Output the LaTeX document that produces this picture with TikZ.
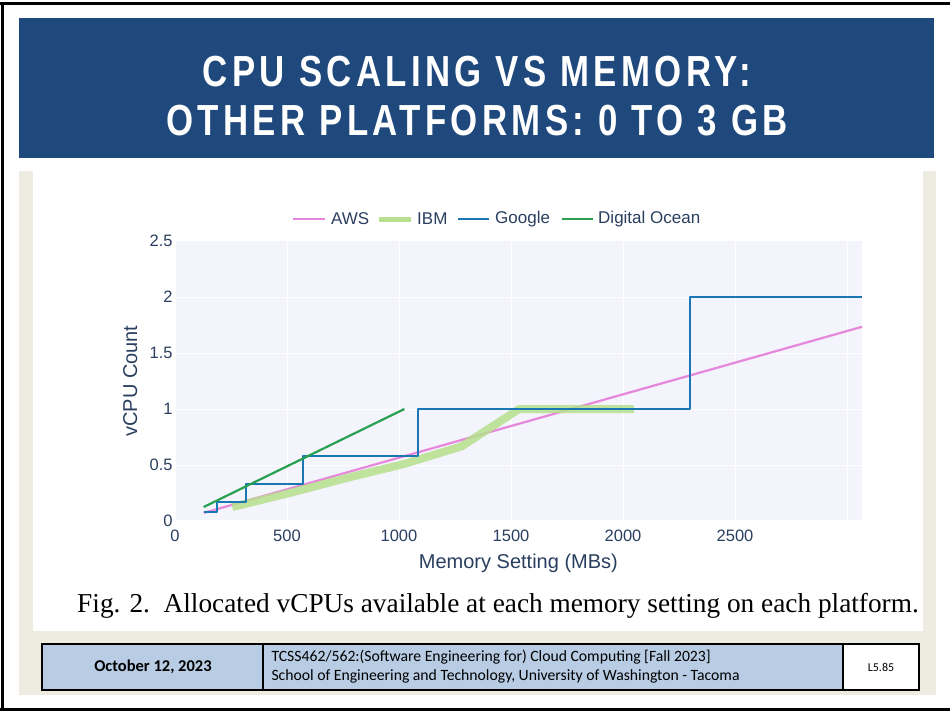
\documentclass[tikz,border=0pt]{standalone}
\usepackage{fontspec}
\setmainfont{Liberation Serif}
\newfontfamily\plotfont{Liberation Sans}
\newfontfamily\titlefont[FakeStretch=0.8,LetterSpace=10]{Liberation Sans}
\newfontfamily\footfont{Carlito}
\definecolor{titleblue}{RGB}{31,73,125}
\definecolor{slidebeige}{RGB}{238,236,225}
\definecolor{plotbg}{RGB}{243,244,252}
\definecolor{plottext}{RGB}{42,63,95}
\definecolor{footblue}{RGB}{184,204,228}
\definecolor{awscol}{RGB}{230,135,220}
\definecolor{ibmcol}{RGB}{182,224,140}
\definecolor{googlecol}{RGB}{25,120,180}
\definecolor{docol}{RGB}{40,160,80}
\tikzset{
  gridline/.style={white,line width=1pt},
  ticklabel/.style={text=plottext,font=\plotfont\fontsize{16.5}{19}\selectfont,inner sep=0pt},
  plotlabel/.style={text=plottext,font=\plotfont\fontsize{17}{20}\selectfont,inner sep=0pt},
  axistitle/.style={plotlabel,font=\plotfont\fontsize{20}{23}\selectfont},
  legendlabel/.style={plotlabel,anchor=west},
  trace/.style={line width=2.2pt,line join=round}
}

\begin{document}
\begin{tikzpicture}[x=1pt,y=-1pt]
      \useasboundingbox (0,0) rectangle (950,712);
      % slide frame
      \draw[line width=3pt] (0,3)--(950,3) (2,3)--(2,709) (0,709)--(950,709);
      \fill[titleblue] (19,18) rectangle (934,158);
      \node[text=white,align=center,font=\titlefont\bfseries\fontsize{43.5}{49}\selectfont] (title) at (477,96)
        {CPU SCALING VS MEMORY:\\OTHER PLATFORMS: 0 TO 3 GB};
      \fill[slidebeige] (19,171) rectangle (936,695);
      \fill[white] (33,171) rectangle (923,631);
      % legend
      \draw[awscol,line width=2pt] (293,219)--(325,219);
      \node[legendlabel] (aws) at (331,219) {AWS};
      \draw[ibmcol,line width=5pt] (379,219)--(411,219);
      \node[legendlabel] (ibm) at (417,219) {IBM};
      \draw[googlecol,line width=2pt] (458,219)--(489,219);
      \node[legendlabel] (google) at (495,219) {Google};
      \draw[docol,line width=2pt] (562,219)--(593,219);
      \node[legendlabel] (docean) at (598,219) {Digital Ocean};
      % plot, in MB and vCPU
      \begin{scope}[shift={(175,521)},x=0.224pt,y=112pt]
        \fill[plotbg] (0,0) rectangle (3067,2.5);
        \foreach \m in {500,1000,...,3000}
          \draw[gridline] (\m,0)--(\m,2.5);
        \foreach \v in {0.5,1,1.5,2}
          \draw[gridline] (0,\v)--(3067,\v);
        \draw[white,line width=2pt] (0,0)--(3067,0) (0,0)--(0,2.5);
        \foreach \m in {0,500,1000,1500,2000,2500}
          \node[ticklabel] at (\m,-0.13) {\m};
        \foreach \v in {0,0.5,1,1.5,2,2.5}
          \node[ticklabel,anchor=east] at (-10,\v) {\v};
        \draw[trace,awscol] (128,0.0724)--(3067,1.734);
        \draw[trace,ibmcol,line width=8pt,opacity=.85] (256,0.125)--(512,0.25)--(768,0.385)
          --(1024,0.51)--(1280,0.667)--(1536,1)--(2048,1);
        \draw[trace,googlecol] (128,0.083)--(187,0.083)--(187,0.167)--(317,0.167)--(317,0.333)
          --(573,0.333)--(573,0.583)--(1085,0.583)--(1085,1)--(2299,1)--(2299,2)--(3067,2);
        \draw[trace,docol] (128,0.125)--(1024,1);
        \node[axistitle,rotate=90] (ytitle) at (-200,1.25) {vCPU Count};
        \node[axistitle] (xtitle) at (1533,-0.375) {Memory Setting (MBs)};
      \end{scope}
      \node[font=\fontsize{27.3}{30}\selectfont] (caption) at (498,606)
        {Fig. 2.\ \ Allocated vCPUs available at each memory setting on each platform.};
      % footer
      \draw[fill=footblue,line width=1.2pt] (42,644) rectangle (843,690);
      \draw[fill=white,line width=1.2pt] (843,644) rectangle (919,690);
      \draw[line width=1.2pt] (263,644)--(263,690);
      \node[font=\footfont\bfseries\fontsize{16.5}{19}\selectfont] (date) at (153,667) {October 12, 2023};
      \node[font=\footfont\fontsize{15.7}{19}\selectfont,align=left,anchor=west] (course) at (268,667)
        {TCSS462/562:(Software Engineering for) Cloud Computing [Fall 2023]\\
         School of Engineering and Technology, University of Washington - Tacoma};
      \node[font=\footfont\fontsize{12}{14}\selectfont] (slideno) at (881,667) {L5.85};
\end{tikzpicture}
\end{document}
